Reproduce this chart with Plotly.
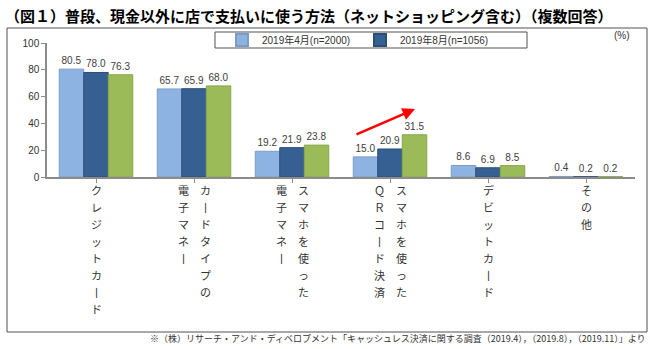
import plotly.graph_objects as go

categories = [
    ["クレジットカード"],
    ["カードタイプの", "電子マネー"],
    ["スマホを使った", "電子マネー"],
    ["スマホを使った", "ＱＲコード決済"],
    ["デビットカード"],
    ["その他"],
]
series_names = ["2019年4月(n=2000)", "2019年8月(n=1056)", "2019年11月"]
apr_2019 = [80.5, 65.7, 19.2, 15.0, 8.6, 0.4]
aug_2019 = [78.0, 65.9, 21.9, 20.9, 6.9, 0.2]
nov_2019 = [76.3, 68.0, 23.8, 31.5, 8.5, 0.2]
y_ticks = [0, 20, 40, 60, 80, 100]

colors = ["#8DB3E2", "#376092", "#9BBB59"]
borders = ["#7C9CC4", "#2C4E78", "#89A64C"]

W, H = 650, 349
L, R, T, B = 47, 635, 43, 177  # plot area in px


def px_x(p):
    return (p - L) / (R - L)


def px_y(p):
    return (B - p) / (B - T)


def vertical_rows(cols):
    # Japanese vertical writing: first column is the rightmost one
    cols = [c.replace("ー", "丨") for c in cols]
    n = max(len(c) for c in cols)
    rows = []
    for i in range(n):
        parts = []
        for c in reversed(cols):
            parts.append(c[i] if i < len(c) else "　")
        rows.append("　".join(parts))
    return rows


xs = list(range(len(categories)))

fig = go.Figure()
values = [apr_2019, aug_2019, nov_2019]
for i, (name, vals) in enumerate(zip(series_names, values)):
    fig.add_trace(go.Bar(
        x=xs, y=vals, name=name,
        marker=dict(color=colors[i], line=dict(color=borders[i], width=1)),
        texttemplate="%{y:.1f}", textposition="outside", cliponaxis=False,
        textfont=dict(family="Liberation Sans, Arial, sans-serif", size=10, color="#404040"),
        showlegend=False,
    ))
    if i < 2:
        fig.add_trace(go.Scatter(
            x=[None], y=[None], mode="markers", name=name,
            marker=dict(symbol="square", size=8, color=colors[i],
                        line=dict(color=borders[i], width=1)),
            showlegend=True,
        ))

annotations = [
    dict(text="(%)", xref="paper", yref="paper", x=px_x(622), y=px_y(36),
         xanchor="center", yanchor="middle", showarrow=False,
         font=dict(size=10, color="#333333")),
    dict(text="※（株）リサーチ・アンド・ディベロプメント「キャッシュレス決済に関する調査（2019.4），（2019.8），（2019.11）」より",
         xref="paper", yref="paper", x=px_x(648), y=px_y(338),
         xanchor="right", yanchor="middle", showarrow=False,
         font=dict(family="Noto Sans CJK JP", size=9, color="#333333")),
    dict(text="", xref="paper", yref="paper", x=px_x(415), y=px_y(109),
         ax=-60, ay=26, showarrow=True, arrowhead=2, arrowsize=1,
         arrowwidth=2.5, arrowcolor="#FF0000"),
]

# vertical category labels placed on the x axis scale, one row per annotation
for xi, cols in zip(xs, categories):
    for r, row in enumerate(vertical_rows(cols)):
        annotations.append(dict(
            text=row, xref="x", yref="paper", x=xi, y=px_y(190 + 17 * r),
            xanchor="center", yanchor="middle", showarrow=False, borderpad=0,
            font=dict(family="Noto Sans CJK JP", size=11, color="#333333"),
        ))

fig.update_layout(
    width=W, height=H,
    margin=dict(l=L, r=W - R, t=T, b=H - B),
    paper_bgcolor="white", plot_bgcolor="white",
    barmode="group", bargap=0.25, bargroupgap=0,
    font=dict(family="Liberation Sans, Noto Sans CJK JP, sans-serif", size=10, color="#333333"),
    title=dict(
        text="（図１）普段、現金以外に店で支払いに使う方法（ネットショッピング含む）（複数回答）",
        xref="container", yref="container", x=5 / W, y=1 - 17 / H,
        xanchor="left", yanchor="middle",
        font=dict(family="Noto Sans CJK JP", size=15, color="#000000", weight="bold"),
    ),
    legend=dict(
        orientation="h", x=px_x(222), y=px_y(40), xanchor="left", yanchor="middle",
        bgcolor="rgba(0,0,0,0)", borderwidth=0,
        entrywidth=93, entrywidthmode="pixels",
        font=dict(family="Liberation Sans, Noto Sans CJK JP", size=10, color="#333333"),
        itemsizing="constant",
    ),
    xaxis=dict(
        range=[-0.5, len(categories) - 0.5],
        tickmode="array", tickvals=xs, showticklabels=False, tickson="boundaries",
        ticks="outside", ticklen=4, tickcolor="#8c8c8c",
        showline=True, linecolor="#8c8c8c", linewidth=1.5,
        showgrid=False, zeroline=False,
    ),
    yaxis=dict(
        range=[0, 100], tickmode="array", tickvals=y_ticks,
        ticks="outside", ticklen=4, tickcolor="#8c8c8c",
        showline=True, linecolor="#8c8c8c", linewidth=1.5,
        showgrid=False, zeroline=False,
        tickfont=dict(family="Liberation Sans, Arial", size=10, color="#333333"),
    ),
    shapes=[
        dict(type="rect", xref="paper", yref="paper",
             x0=px_x(7), x1=px_x(647), y0=px_y(332), y1=px_y(28),
             line=dict(color="#505050", width=1), fillcolor="rgba(0,0,0,0)", layer="below"),
        dict(type="rect", xref="paper", yref="paper",
             x0=px_x(215), x1=px_x(527), y0=px_y(48), y1=px_y(32),
             line=dict(color="#505050", width=1), fillcolor="white", layer="below"),
    ],
    annotations=annotations,
)

fig.write_html("out.html")
